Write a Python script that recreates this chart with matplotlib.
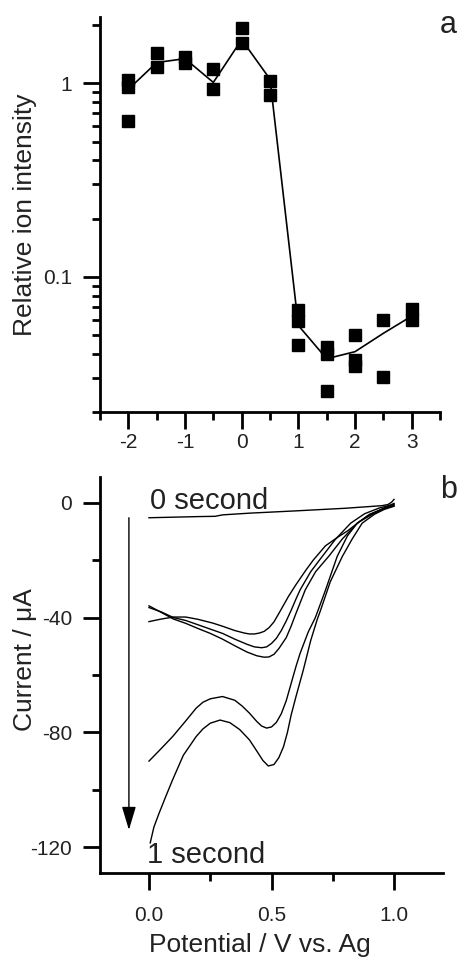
import numpy as np
import matplotlib
matplotlib.use("Agg")
import matplotlib.pyplot as plt
from matplotlib.ticker import LogLocator, NullFormatter, FixedLocator

plt.rcParams['font.family'] = ['Liberation Sans', 'DejaVu Sans']
plt.rcParams['axes.unicode_minus'] = False

# ---- panel a: relative ion intensity vs. potential step ----
pot_pts = [-2, -2, -2, -1.5, -1.5, -1, -1, -0.5, -0.5, 0, 0, 0.5, 0.5,
           1, 1, 1, 1.5, 1.5, 1.5, 2, 2, 2, 2.5, 2.5, 3, 3]
inten_pts = [1.04, 0.96, 0.64, 1.44, 1.21, 1.37, 1.28, 1.18, 0.93, 1.93, 1.62, 1.03, 0.87,
             0.067, 0.059, 0.0445, 0.0434, 0.040, 0.0256, 0.050, 0.037, 0.0345,
             0.060, 0.0305, 0.068, 0.060]
pot_mean = [-2, -1.5, -1, -0.5, 0, 0.5, 1, 1.5, 2, 2.5, 3]
inten_mean = [0.93, 1.28, 1.34, 1.01, 1.68, 1.05, 0.056, 0.0377, 0.041, 0.051, 0.0626]

# ---- panel b: current traces, 0 s to 1 s ----
cv0_x = [0, 0.1, 0.2, 0.27, 0.3, 0.41, 0.6, 0.8, 0.95, 0.975, 0.99, 1.0]
cv0_y = [-5.2, -5.0, -4.8, -4.7, -4.2, -3.6, -2.8, -1.9, -1.0, -0.6, 0.2, 1.2]

cvA_x = [0, 0.05, 0.1, 0.15, 0.2, 0.26, 0.3, 0.35, 0.39, 0.41, 0.43, 0.45, 0.47, 0.49,
         0.51, 0.535, 0.57, 0.6, 0.64, 0.67, 0.72, 0.77, 0.81, 0.86, 0.92, 0.96, 1.0]
cvA_y = [-41.4, -40.5, -39.8, -39.8, -40.6, -41.9, -43.0, -44.5, -45.4, -45.7, -45.7,
         -45.4, -44.8, -43.5, -41.5, -37.8, -32.5, -28.5, -23.5, -20.0, -15.0, -12.0,
         -9.8, -6.5, -3.6, -1.8, -0.2]

cvB_x = [0, 0.05, 0.1, 0.15, 0.2, 0.25, 0.3, 0.35, 0.4, 0.43, 0.46, 0.48, 0.5, 0.52,
         0.54, 0.56, 0.58, 0.6, 0.617, 0.66, 0.707, 0.76, 0.823, 0.88, 0.94, 1.0]
cvB_y = [-36.5, -38.0, -40.0, -41.0, -42.5, -44.0, -45.5, -47.5, -49.3, -50.2, -50.5,
         -50.2, -49.0, -47.2, -44.5, -41.2, -37.5, -33.5, -30.3, -24.0, -18.7, -12.8,
         -7.1, -3.8, -1.8, -0.5]

cvC_x = [0, 0.05, 0.1, 0.15, 0.2, 0.25, 0.3, 0.35, 0.4, 0.44, 0.47, 0.49, 0.51, 0.53,
         0.56, 0.58, 0.6, 0.638, 0.68, 0.733, 0.79, 0.85, 0.9, 0.95, 1.0]
cvC_y = [-35.9, -38.2, -40.5, -42.0, -43.8, -45.5, -47.5, -49.8, -52.0, -53.3, -53.8,
         -53.7, -52.8, -50.8, -47.0, -43.0, -38.5, -30.3, -24.0, -18.7, -12.5, -7.1,
         -4.0, -2.2, -0.8]

cvD_x = [0, 0.04, 0.096, 0.15, 0.192, 0.22, 0.25, 0.3, 0.35, 0.38, 0.41, 0.44, 0.46,
         0.48, 0.5, 0.52, 0.54, 0.56, 0.58, 0.6, 0.617, 0.65, 0.679, 0.72, 0.768, 0.81,
         0.85, 0.9, 0.95, 1.0]
cvD_y = [-90.0, -86.5, -81.5, -76.0, -71.6, -69.5, -68.3, -67.5, -68.8, -70.8, -73.3,
         -76.2, -77.8, -78.5, -78.1, -76.5, -73.5, -69.0, -63.0, -57.0, -52.4, -45.0,
         -40.0, -30.5, -18.7, -11.5, -7.1, -4.2, -2.3, -1.0]

cvE_x = [0.005, 0.02, 0.041, 0.07, 0.096, 0.14, 0.192, 0.22, 0.25, 0.29, 0.33, 0.37,
         0.41, 0.44, 0.465, 0.487, 0.51, 0.53, 0.549, 0.565, 0.58, 0.6, 0.63, 0.66,
         0.686, 0.7, 0.74, 0.789, 0.83, 0.87, 0.92, 0.96, 1.0]
cvE_y = [-118.5, -113.0, -108.2, -102.0, -96.6, -88.0, -81.5, -78.8, -76.8, -75.7,
         -76.6, -79.0, -82.6, -86.5, -89.8, -91.7, -91.2, -88.8, -85.0, -80.0, -74.0,
         -67.5, -58.2, -48.0, -40.8, -37.5, -27.5, -18.7, -12.5, -7.1, -4.0, -2.3, -1.2]

traces = [(cv0_x, cv0_y), (cvA_x, cvA_y), (cvB_x, cvB_y), (cvC_x, cvC_y),
          (cvD_x, cvD_y), (cvE_x, cvE_y)]

W, H = 458, 958
fig = plt.figure(figsize=(W / 100, H / 100), dpi=100)
txt = '#222222'
spine_lw = 2.0


def style_axes(ax):
    for s in ['top', 'right']:
        ax.spines[s].set_visible(False)
    for s in ['left', 'bottom']:
        ax.spines[s].set_linewidth(spine_lw)
    ax.tick_params(which='major', direction='out', length=12, width=spine_lw,
                   labelsize=15, labelcolor=txt)
    ax.tick_params(which='minor', direction='out', length=6, width=spine_lw)


# panel a
ax1 = fig.add_axes([100 / W, 1 - 412 / H, 340 / W, 395 / H])
ax1.plot(pot_mean, inten_mean, color='k', lw=1.2)
ax1.plot(pot_pts, inten_pts, ls='none', marker='s', ms=8.5, color='k')
ax1.set_yscale('log')
ax1.set_xlim(-2.5, 3.5)
ax1.set_ylim(0.02, 2.2)
ax1.set_yticks([0.1, 1])
ax1.set_yticklabels(['0.1', '1'])
ax1.yaxis.set_minor_locator(LogLocator(base=10, subs=np.arange(2, 10)))
ax1.yaxis.set_minor_formatter(NullFormatter())
ax1.set_xticks([-2, -1, 0, 1, 2, 3])
ax1.xaxis.set_minor_locator(FixedLocator([-2.5, -1.5, -0.5, 0.5, 1.5, 2.5, 3.5]))
style_axes(ax1)
ax1.tick_params(axis='y', which='major', pad=8)
ax1.tick_params(axis='x', which='major', pad=3)
fig.text(25 / W, 1 - 215 / H, 'Relative ion intensity', rotation=90,
         ha='center', va='center', fontsize=19, color=txt)
fig.text(440 / W, 1 - 33 / H, 'a', fontsize=22, color=txt, va='baseline')

# panel b
ax2 = fig.add_axes([100 / W, 1 - 873 / H, 343 / W, 396 / H])
for tx, ty in traces:
    ax2.plot(tx, ty, color='k', lw=1.0)
ax2.set_xlim(-0.2, 1.2)
ax2.set_ylim(-129, 9)
ax2.set_xticks([0, 0.5, 1.0])
ax2.set_xticklabels(['0.0', '0.5', '1.0'])
ax2.xaxis.set_minor_locator(FixedLocator([0.25, 0.75]))
ax2.set_yticks([-120, -80, -40, 0])
ax2.yaxis.set_minor_locator(FixedLocator([-100, -60, -20]))
style_axes(ax2)
ax2.tick_params(axis='y', which='major', pad=8)
ax2.tick_params(axis='x', which='major', pad=12)

ax2.annotate('', xy=(-0.082, -114), xytext=(-0.082, -5.2),
             arrowprops=dict(arrowstyle='-|>,head_length=0.4,head_width=0.12',
                             color='k', lw=1.0, mutation_scale=36,
                             shrinkA=0, shrinkB=0))
ax2.text(0.005, -2.0, '0 second', fontsize=21, color=txt, va='baseline')
ax2.text(-0.01, -125.5, '1 second', fontsize=21, color=txt, va='baseline')

fig.text(25 / W, 1 - 660 / H, 'Current / \u03bcA', rotation=90,
         ha='center', va='center', fontsize=19, color=txt)
fig.text(260 / W, 1 - 952 / H, 'Potential / V vs. Ag', ha='center',
         va='baseline', fontsize=19, color=txt)
fig.text(440 / W, 1 - 498 / H, 'b', fontsize=22, color=txt, va='baseline')

fig.savefig('out.png', dpi=100)
